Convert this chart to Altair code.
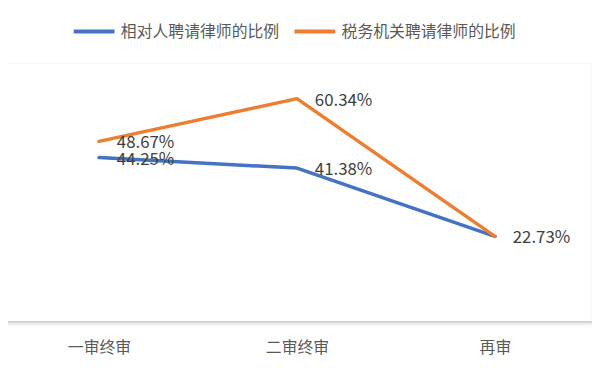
import altair as alt
import pandas as pd

categories = ["一审终审", "二审终审", "再审"]
series_names = ["相对人聘请律师的比例", "税务机关聘请律师的比例"]
respondent_values = [44.25, 41.38, 22.73]
tax_values = [48.67, 60.34, 22.73]
colors = ["#4472C4", "#ED7D31"]

rows = []
for c, v in zip(categories, respondent_values):
    rows.append({"cat": c, "series": series_names[0], "v": v, "ord": 0})
for c, v in zip(categories, tax_values):
    rows.append({"cat": c, "series": series_names[1], "v": v, "ord": 1})
df = pd.DataFrame(rows)

W, H = 590, 259
FONT = "Noto Sans CJK SC"

xscale = alt.Scale(type="point", padding=0.475, align=0.484)
yscale = alt.Scale(domain=[0, 70], nice=False, zero=True)

x_enc = alt.X("cat:N", sort=categories, scale=xscale,
              axis=alt.Axis(title=None, domain=False, ticks=False, grid=False,
                            labelAngle=0, labelFontSize=16, labelColor="#595959",
                            labelFont=FONT, labelPadding=20))
y_enc = alt.Y("v:Q", scale=yscale, axis=None)

base = alt.Chart(df)

lines = base.mark_line(strokeWidth=3.5, strokeCap="round", strokeJoin="round").encode(
    x=x_enc, y=y_enc,
    color=alt.Color("series:N", sort=series_names,
                    scale=alt.Scale(domain=series_names, range=colors),
                    legend=alt.Legend(title=None, orient="none", direction="horizontal",
                                      legendX=64, legendY=-55,
                                      symbolType="stroke", symbolSize=1700,
                                      symbolStrokeWidth=4, labelFontSize=16,
                                      labelColor="#595959", labelFont=FONT,
                                      labelLimit=0, labelOffset=4, columnPadding=6)),
    order="ord:Q",
)

labels = base.transform_aggregate(
    n="count()", groupby=["cat", "v"]
).transform_calculate(
    lab="format(datum.v, '.2f') + '%'"
).mark_text(align="left", baseline="middle", dx=18, dy=2, fontSize=17,
            font=FONT, color="#404040").encode(
    x=alt.X("cat:N", sort=categories, scale=xscale),
    y=alt.Y("v:Q", scale=yscale),
    text="lab:N",
)

one = pd.DataFrame({"k": [0]})
shadow_layers = []
for k, op in [(2, 0.22), (3, 0.14), (4, 0.09), (5, 0.06), (6, 0.04), (7, 0.025), (8, 0.015)]:
    shadow_layers.append(
        alt.Chart(one).mark_rule(strokeWidth=1, color="#000000", opacity=op).encode(
            x=alt.value(0), x2=alt.value(W), y=alt.value(H + k))
    )
top_edge = alt.Chart(one).mark_rule(strokeWidth=1, color="#000000", opacity=0.04).encode(
    x=alt.value(0), x2=alt.value(W), y=alt.value(0))
right_edge = alt.Chart(one).mark_rule(strokeWidth=1, color="#000000", opacity=0.06).encode(
    x=alt.value(W), y=alt.value(0), y2=alt.value(H + 2))

chart = alt.layer(*shadow_layers, top_edge, right_edge, lines, labels).properties(
    width=W, height=H,
    padding={"left": 0, "top": 54, "right": 0, "bottom": 44},
    autosize=alt.AutoSizeParams(type="none"),
    background="white",
).configure_view(stroke=None)

chart.save("out.html", embed_options={"renderer": "svg", "actions": False})
